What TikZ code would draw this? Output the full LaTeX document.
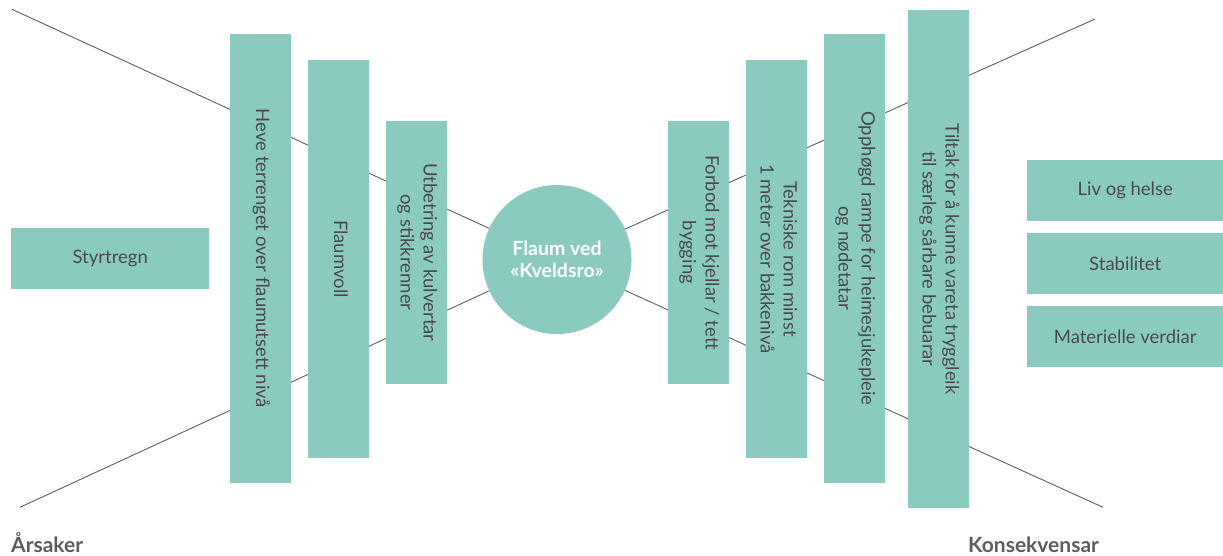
\documentclass[tikz,border=0pt]{standalone}
\usepackage{fontspec}
\setmainfont{Lato}
\usetikzlibrary{backgrounds}
\definecolor{tealbox}{RGB}{138,202,191}
\definecolor{txtgray}{RGB}{74,74,74}
\definecolor{linegray}{RGB}{95,95,95}
\newcommand\vtxt[1]{\rotatebox{-90}{\begin{tabular}{@{}c@{}}#1\end{tabular}}}
\begin{document}
\begin{tikzpicture}[x=1pt,y=-1pt,
  box/.style={fill=tealbox, draw=none, inner sep=0pt, anchor=north west,
    text=txtgray, font=\fontsize{18.5}{23}\selectfont},
  hbox/.style={box, minimum width=198, minimum height=60.5},
  rbox/.style={box, minimum width=196, minimum height=60.5},
  vbox/.style={box, minimum width=61},
  hub/.style={circle, fill=tealbox, draw=none, minimum size=149, inner sep=0pt,
    text=white, font=\bfseries\fontsize{19.5}{22}\selectfont, align=center},
  conn/.style={draw=linegray, line width=0.9},
  side/.style={anchor=base west, inner sep=0pt, text=txtgray!90!white, font=\bfseries\fontsize{21}{24}\selectfont}]
\useasboundingbox (0,0) rectangle (1223,555);

\coordinate (tl) at (12,9.3);
\coordinate (bl) at (20,507.3);
\coordinate (tr) at (1095,19);
\coordinate (br) at (1103,507.3);

\node[hub] (c) at (557,259.5) {Flaum ved\\«Kveldsro»};

\node[hbox] (s) at (11,228) {Styrtregn};

\node[vbox, minimum height=448.5] (a1) at (230,34) {\vtxt{Heve terrenget over flaumutsett nivå}};
\node[vbox, minimum height=397.5] (a2) at (308,60) {\vtxt{Flaumvoll}};
\node[vbox, minimum height=262.5] (a3) at (386,121) {\vtxt{Utbetring av kulvertar\\og stikkrenner}};

\node[vbox, minimum height=262.5] (b1) at (668,121) {\vtxt{Forbod mot kjellar / tett\\bygging}};
\node[vbox, minimum height=397.5] (b2) at (746,60) {\vtxt{Tekniske rom minst\\1 meter over bakkenivå}};
\node[vbox, minimum height=448.5] (b3) at (824,34) {\vtxt{Opphøgd rampe for heimesjukepleie\\og nødetatar}};
\node[vbox, minimum height=497.5] (b4) at (908,10) {\vtxt{Tiltak for å kunne vareta tryggleik\\til særleg sårbare bebuarar}};

\node[rbox] (k1) at (1027,160) {Liv og helse};
\node[rbox] (k2) at (1027,233) {Stabilitet};
\node[rbox] (k3) at (1027,306) {Materielle verdiar};

\node[side] (l1) at (11,552) {Årsaker};
\node[side] (l2) at (968,552) {Konsekvensar};

\begin{pgfonlayer}{background}
  \draw[conn] (tl) -- (c.center);
  \draw[conn] (bl) -- (c.center);
  \draw[conn] (tr) -- (c.center);
  \draw[conn] (br) -- (c.center);
\end{pgfonlayer}
\end{tikzpicture}
\end{document}
